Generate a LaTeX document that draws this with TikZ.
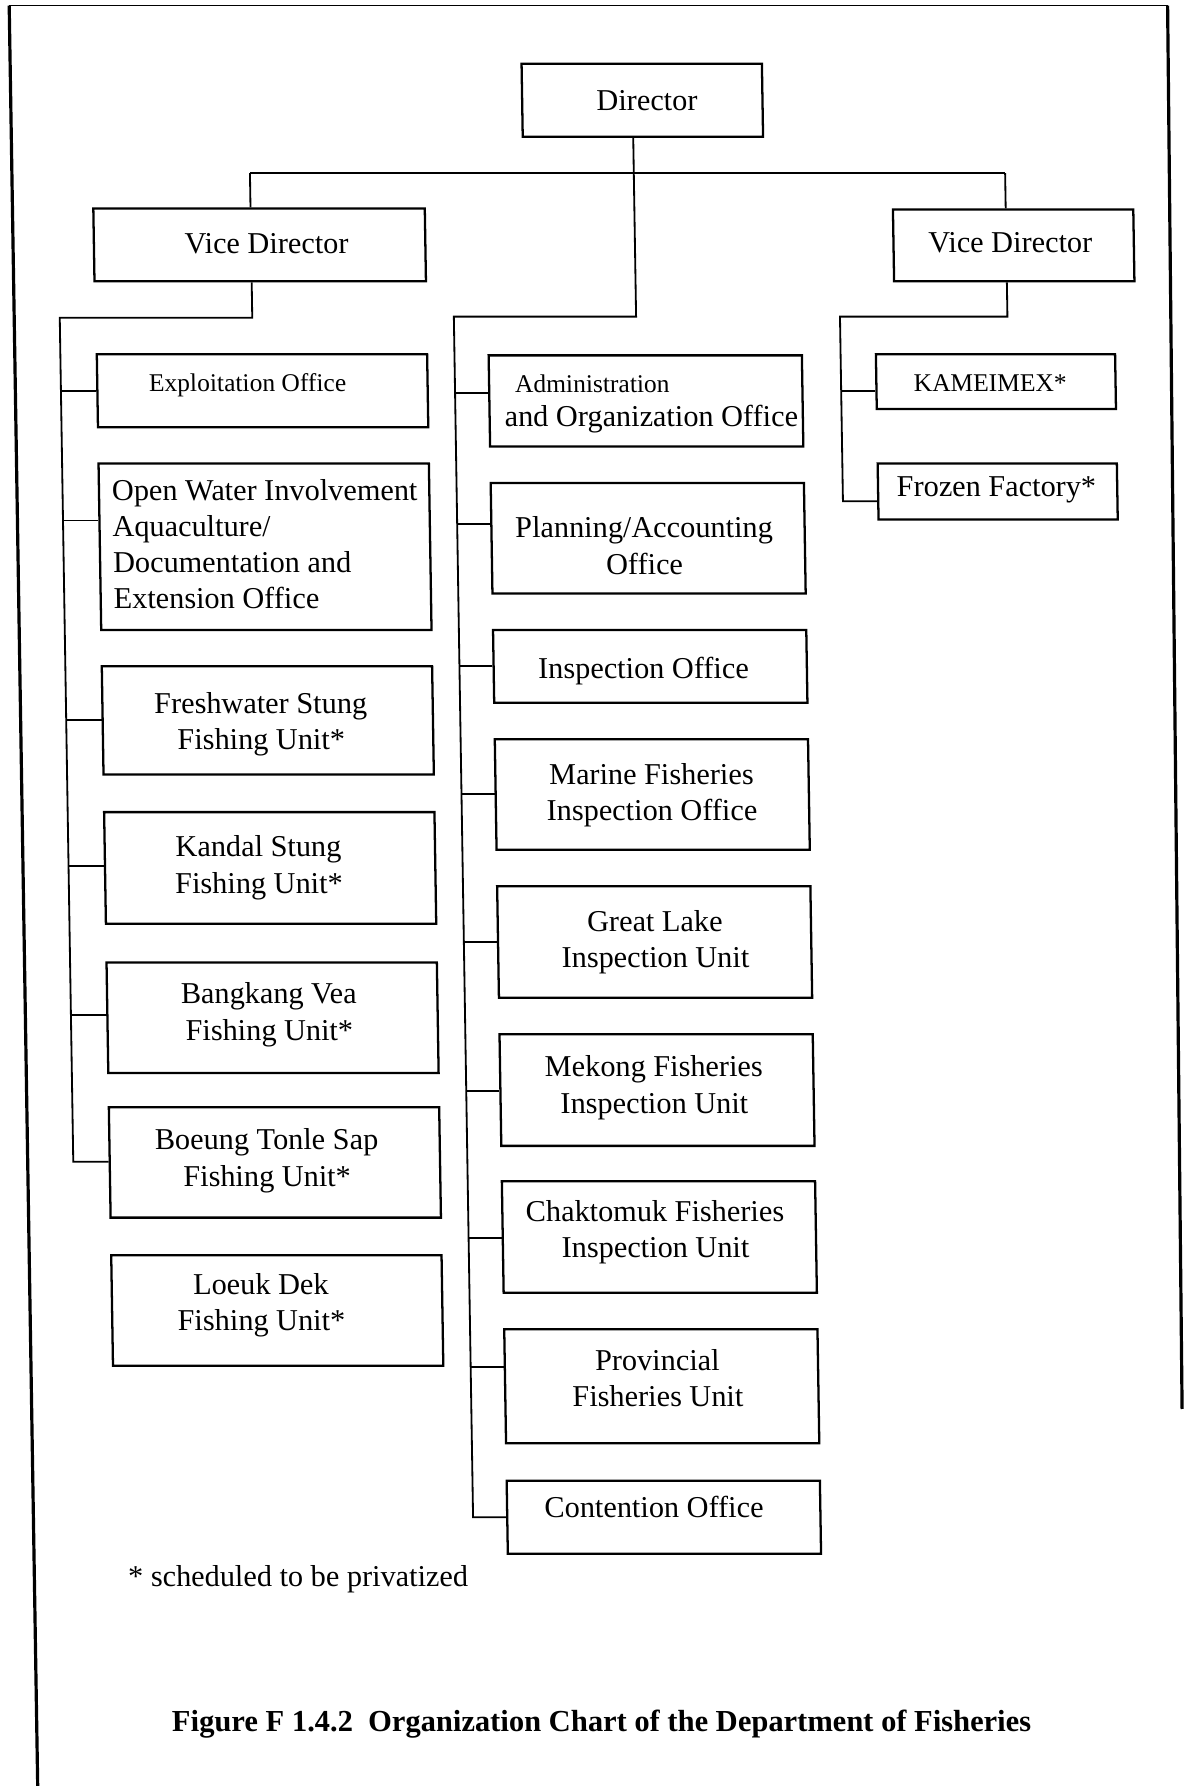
\documentclass[tikz,border=0pt]{standalone}
\usepackage{fontspec}
\setmainfont{Liberation Serif}
\usetikzlibrary{calc}
\begin{document}
\begin{tikzpicture}[x=0.5pt,y=-0.5pt,
  bx/.style={draw, line width=1pt, rectangle, inner sep=0pt},
  lcol/.style={bx, minimum width=145pt},
  mcol/.style={bx, minimum width=137.5pt},
  rcol/.style={bx, minimum width=105pt},
  txt/.style={inner sep=0pt, font=\fontsize{13.3}{16}\selectfont, align=center},
  sml/.style={inner sep=0pt, font=\fontsize{11.2}{14}\selectfont},
  ln/.style={line width=0.8pt},
  frame/.style={line width=1.4pt}]
\useasboundingbox (0,0) rectangle (1039,1568);
\begin{scope}[xslant=-0.016, transform shape]
% frame
\coordinate (fTL) at (8,5);
\coordinate (fBL) at (8,1575);
\coordinate (fTR) at (1025,5);
\coordinate (fBR) at (1018,1237);
\draw[line width=0.5pt] (fTL) -- (fTR);
\draw[frame] (fTL) -- (fBL);
\draw[frame] (fTR) -- (fBR);

% top level
\node[bx, minimum width=105.5pt, minimum height=32pt] (dir) at (562.5,88) {};
\node[txt] (tdir) at (566.6,88) {Director};
\node[bx, minimum width=145.5pt, minimum height=32pt] (vdl) at (224.5,215) {};
\node[txt] (tvdl) at (230.6,214) {Vice Director};
\node[bx, minimum width=105.5pt, minimum height=31.5pt] (vdr) at (886.5,215.5) {};
\node[txt] (tvdr) at (883.6,213) {Vice Director};

% left column
\node[lcol, minimum height=32pt] (expl) at (225,343) {};
\node[sml] (texpl) at (212,338) {Exploitation Office};
\node[lcol, minimum height=73pt] (ow) at (225,480) {};
\node[txt, align=left, anchor=west, font=\fontsize{13.3}{15.8}\selectfont] (tow) at (91,478)
  {Open Water Involvement\\Aquaculture/\\Documentation and\\Extension Office};
\node[lcol, minimum height=47.5pt] (fw) at (225,632.5) {};
\node[txt] (tfw) at (219,636) {Freshwater Stung\\Fishing Unit*};
\node[lcol, minimum height=49pt] (ks) at (225,762) {};
\node[txt] (tks) at (215,762) {Kandal Stung\\Fishing Unit*};
\node[lcol, minimum height=48.5pt] (bv) at (225,893.5) {};
\node[txt] (tbv) at (222,891) {Bangkang Vea\\Fishing Unit*};
\node[lcol, minimum height=48.5pt] (bts) at (225,1020.5) {};
\node[txt] (tbts) at (218,1019) {Boeung Tonle Sap\\Fishing Unit*};
\node[lcol, minimum height=48.5pt] (ld) at (225,1150.5) {};
\node[txt] (tld) at (211,1146) {Loeuk Dek\\Fishing Unit*};

% middle column
\node[mcol, minimum height=40pt] (adm) at (561.5,352) {};
\node[sml] (tadm1) at (514.6,337) {Administration};
\node[txt] (tadm2) at (566,368) {and Organization Office};
\node[mcol, minimum height=48.5pt] (plan) at (561.5,472.5) {};
\node[txt] (tplan) at (558,479) {Planning/Accounting\\Office};
\node[mcol, minimum height=32pt] (insp) at (561.5,585) {};
\node[txt] (tinsp) at (555.6,589) {Inspection Office};
\node[mcol, minimum height=48.5pt] (mar) at (561.5,697.5) {};
\node[txt] (tmar) at (561,698) {Marine Fisheries\\Inspection Office};
\node[mcol, minimum height=49pt] (gl) at (561.5,827) {};
\node[txt] (tgl) at (562,827) {Great Lake\\Inspection Unit};
\node[mcol, minimum height=49pt] (mek) at (561.5,957) {};
\node[txt] (tmek) at (559,955) {Mekong Fisheries\\Inspection Unit};
\node[mcol, minimum height=49pt] (chak) at (561.5,1086) {};
\node[txt] (tchak) at (558,1082) {Chaktomuk Fisheries\\Inspection Unit};
\node[mcol, minimum height=50pt] (prov) at (561.5,1217) {};
\node[txt] (tprov) at (558,1210) {Provincial\\Fisheries Unit};
\node[mcol, minimum height=32pt] (cont) at (561.5,1332) {};
\node[txt] (tcont) at (553,1323) {Contention Office};

% right column
\node[rcol, minimum height=24pt] (kam) at (869,335) {};
\node[sml] (tkam) at (864,336) {KAMEIMEX*};
\node[rcol, minimum height=24.5pt] (froz) at (869,431.5) {};
\node[txt] (tfroz) at (868,430) {Frozen Factory*};

% connectors: top
\coordinate (h1) at (217,152);
\coordinate (h2) at (880,152);
\coordinate (m0) at (554,278);
\coordinate (m1) at (394,278);
\draw[ln] (h1) -- (h2);
\draw[ln] (h1) -- (h1 |- vdl.north);
\draw[ln] (h2) -- (h2 |- vdr.north);
\draw[ln] (m0 |- dir.south) -- (m0) -- (m1) -- (m1 |- cont.west) -- (cont.west);

% left spine
\coordinate (l0) at (217,279);
\coordinate (l1) at (48,279);
\coordinate (lb1) at (48,343);
\coordinate (lb2) at (48,457);
\coordinate (lb3) at (48,632);
\coordinate (lb4) at (48,760);
\coordinate (lb5) at (48,891);
\coordinate (lb6) at (48,1020);
\draw[ln] (l0 |- vdl.south) -- (l0) -- (l1) -- (lb6) -- (lb6 -| bts.west);
\draw[ln] (lb1) -- (lb1 -| expl.west);
\draw[ln] (lb2) -- (lb2 -| ow.west);
\draw[ln] (lb3) -- (lb3 -| fw.west);
\draw[ln] (lb4) -- (lb4 -| ks.west);
\draw[ln] (lb5) -- (lb5 -| bv.west);

% middle spine branches
\coordinate (mb1) at (394,345);
\coordinate (mb2) at (394,460);
\coordinate (mb3) at (394,585);
\coordinate (mb4) at (394,697);
\coordinate (mb5) at (394,827);
\coordinate (mb6) at (394,958);
\coordinate (mb7) at (394,1087);
\coordinate (mb8) at (394,1200);
\draw[ln] (mb1) -- (mb1 -| adm.west);
\draw[ln] (mb2) -- (mb2 -| plan.west);
\draw[ln] (mb3) -- (mb3 -| insp.west);
\draw[ln] (mb4) -- (mb4 -| mar.west);
\draw[ln] (mb5) -- (mb5 -| gl.west);
\draw[ln] (mb6) -- (mb6 -| mek.west);
\draw[ln] (mb7) -- (mb7 -| chak.west);
\draw[ln] (mb8) -- (mb8 -| prov.west);

% right spine
\coordinate (r0) at (880,278);
\coordinate (r1) at (733,278);
\coordinate (rb1) at (733,343);
\coordinate (rb2) at (733,440);
\draw[ln] (r0 |- vdr.south) -- (r0) -- (r1) -- (rb2) -- (rb2 -| froz.west);
\draw[ln] (rb1) -- (rb1 -| kam.west);

% notes
\node[txt, anchor=west] (fn) at (90,1386) {* scheduled to be privatized};
\node[txt, font=\fontsize{13.4}{16}\selectfont\bfseries] (cap) at (504,1514)
  {Figure F 1.4.2\ \ Organization Chart of the Department of Fisheries};
\end{scope}
\end{tikzpicture}
\end{document}
